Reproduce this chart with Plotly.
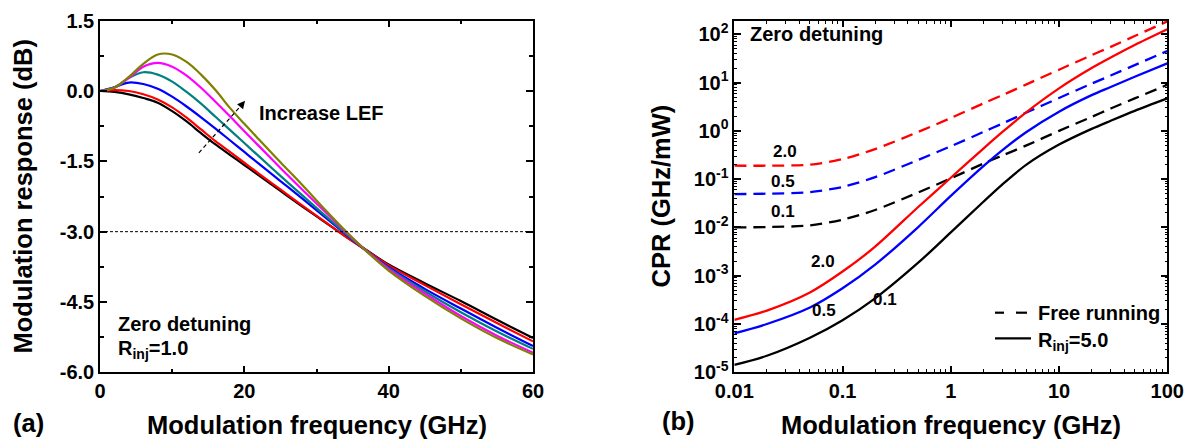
import plotly.graph_objects as go

# ---------------- data: panel (a) modulation response vs frequency ----------------
freq_a = [0, 2, 4, 6, 8, 10, 12, 14, 16, 18, 20, 22, 25, 28, 31, 34, 37, 40, 45, 50, 55, 60]
resp_black = [0, -0.02, -0.07, -0.15, -0.25, -0.43, -0.65, -0.90, -1.14, -1.36, -1.58, -1.80,
              -2.13, -2.46, -2.78, -3.10, -3.40, -3.70, -4.10, -4.48, -4.88, -5.27]
resp_red = [0, 0.02, 0.0, -0.07, -0.18, -0.35, -0.57, -0.82, -1.07, -1.30, -1.53, -1.76,
            -2.10, -2.44, -2.77, -3.10, -3.41, -3.72, -4.14, -4.55, -4.95, -5.34]
resp_blue = [0, 0.08, 0.18, 0.15, 0.05, -0.12, -0.33, -0.56, -0.80, -1.05, -1.30, -1.55,
             -1.92, -2.29, -2.67, -3.05, -3.42, -3.76, -4.22, -4.64, -5.05, -5.44]
resp_teal = [0, 0.08, 0.28, 0.40, 0.35, 0.20, -0.02, -0.27, -0.55, -0.83, -1.11, -1.39,
             -1.81, -2.22, -2.63, -3.03, -3.42, -3.78, -4.27, -4.72, -5.13, -5.50]
resp_magenta = [0, 0.07, 0.28, 0.52, 0.60, 0.52, 0.33, 0.07, -0.23, -0.54, -0.86, -1.17,
                -1.64, -2.10, -2.55, -3.00, -3.42, -3.80, -4.32, -4.80, -5.22, -5.58]
resp_olive = [0, 0.07, 0.30, 0.58, 0.78, 0.78, 0.62, 0.35, 0.02, -0.36, -0.70, -1.03,
              -1.52, -2.00, -2.50, -2.98, -3.43, -3.83, -4.37, -4.85, -5.27, -5.62]
ref_level_db = -3.0

a_xticks = [0, 20, 40, 60]
a_yticks = [1.5, 0.0, -1.5, -3.0, -4.5, -6.0]
a_yticktext = ["1.5", "0.0", "-1.5", "-3.0", "-4.5", "-6.0"]

# ---------------- data: panel (b) CPR vs frequency ----------------
freq_b = [0.01, 0.02, 0.05, 0.1, 0.2, 0.5, 1, 2, 3, 5, 10, 20, 30, 50, 100]
free_20 = [0.19, 0.19, 0.20, 0.26, 0.42, 0.95, 1.85, 3.7, 5.5, 9.2, 18.5, 37, 55, 92, 185]
free_05 = [0.049, 0.050, 0.054, 0.069, 0.11, 0.25, 0.48, 0.95, 1.42, 2.4, 4.8, 9.5, 14, 23, 45]
free_01 = [0.0100, 0.0102, 0.011, 0.0145, 0.023, 0.053, 0.104, 0.21, 0.31, 0.50, 1.0, 1.95, 2.9, 4.7, 9.0]
inj_20 = [1.22e-4, 1.9e-4, 4.5e-4, 1.22e-3, 4.0e-3, 0.0265, 0.107, 0.43, 0.95, 2.45, 7.6, 20, 33, 60, 127]
inj_05 = [6.4e-5, 1.0e-4, 2.2e-4, 5.5e-4, 1.7e-3, 0.0102, 0.045, 0.186, 0.40, 0.95, 2.5, 5.5, 8.1, 13.2, 25]
inj_01 = [1.42e-5, 2.2e-5, 5.2e-5, 1.2e-4, 3.4e-4, 1.86e-3, 7.9e-3, 0.034, 0.078, 0.20, 0.52, 1.1, 1.62, 2.6, 4.7]

b_xticks = [0.01, 0.1, 1, 10, 100]
b_xticktext = ["0.01", "0.1", "1", "10", "100"]
b_yexps = [-5, -4, -3, -2, -1, 0, 1, 2]

# ---------------- figure geometry (pixels) ----------------
W, H = 1186, 440
FONT = "Liberation Sans, Arial, Helvetica, sans-serif"


def fx(px):
    return px / W


def fy(py):
    return 1 - py / H


dom_y = [fy(372.3), fy(20.7)]
dom_xa = [fx(100), fx(533)]
dom_xb = [fx(734.3), fx(1167.3)]

fig = go.Figure()

# panel (a) curves
for vals, col in [(resp_black, "#000000"), (resp_red, "#ff0000"), (resp_blue, "#0000ff"),
                  (resp_teal, "#008080"), (resp_magenta, "#ff00ff"), (resp_olive, "#808000")]:
    fig.add_trace(go.Scatter(x=freq_a, y=vals, mode="lines", xaxis="x", yaxis="y",
                             line=dict(color=col, width=2.2, shape="spline", smoothing=1.0),
                             showlegend=False, hoverinfo="skip"))

# panel (b) curves
DASH = "12px,7px"
for vals, col, dash in [(free_20, "#ff0000", DASH), (free_05, "#0000ff", DASH), (free_01, "#000000", DASH),
                        (inj_20, "#ff0000", "solid"), (inj_05, "#0000ff", "solid"), (inj_01, "#000000", "solid")]:
    fig.add_trace(go.Scatter(x=freq_b, y=vals, mode="lines", xaxis="x2", yaxis="y2",
                             line=dict(color=col, width=2.3, dash=dash, shape="spline", smoothing=0.8),
                             showlegend=False, hoverinfo="skip"))

tickfont = dict(family=FONT, size=20, color="black", weight="bold")
common = dict(showline=True, linecolor="black", linewidth=1.5, mirror="allticks",
              ticks="inside", ticklen=7, tickwidth=1.5, tickcolor="black", automargin=False,
              showgrid=False, zeroline=False, tickfont=tickfont)

b_xminor = [k * 10.0 ** n for n in range(-2, 2) for k in range(2, 10)]
b_yminor = [k * 10.0 ** n for n in range(-5, 3) for k in range(2, 10) if k * 10.0 ** n < 190]

fig.update_layout(
    width=W, height=H,
    margin=dict(l=0, r=0, t=0, b=0, pad=0, autoexpand=False),
    paper_bgcolor="white", plot_bgcolor="white",
    font=dict(family=FONT, color="black", weight="bold"),
    xaxis=dict(domain=dom_xa, range=[0, 60], anchor="y", tickmode="array", tickvals=a_xticks,
               minor=dict(tickmode="array", tickvals=[10, 30, 50], ticks="inside", ticklen=4,
                          tickwidth=1.5, tickcolor="black", showgrid=False), **common),
    yaxis=dict(domain=dom_y, range=[-6, 1.5], anchor="x", tickmode="array", tickvals=a_yticks,
               ticktext=a_yticktext,
               minor=dict(tickmode="array", tickvals=[0.75, -0.75, -2.25, -3.75, -5.25], ticks="inside",
                          ticklen=4, tickwidth=1.5, tickcolor="black", showgrid=False), **common),
    xaxis2=dict(domain=dom_xb, type="log", range=[-2, 2], anchor="y2", tickmode="array",
                tickvals=b_xticks, ticktext=b_xticktext,
                minor=dict(tickmode="array", tickvals=b_xminor, ticks="inside", ticklen=4,
                           tickwidth=1.2, tickcolor="black", showgrid=False), **common),
    yaxis2=dict(domain=dom_y, type="log", range=[-5, 2.2816], anchor="x2", tickmode="array",
                tickvals=[10.0 ** e for e in b_yexps],
                ticktext=["10<sup>%d</sup>" % e for e in b_yexps],
                minor=dict(tickmode="array", tickvals=b_yminor, ticks="inside", ticklen=3,
                           tickwidth=1.0, tickcolor="black", showgrid=False), **common),
)

shapes = []
# -3 dB reference level
shapes.append(dict(type="line", xref="x", yref="y", x0=0, x1=60, y0=ref_level_db, y1=ref_level_db,
                   line=dict(color="black", width=1, dash="3px,2px")))
# "Increase LEF" dashed arrow shaft
shapes.append(dict(type="line", xref="x", yref="y", x0=13.7, y0=-1.32, x1=19.6, y1=-0.30,
                   line=dict(color="black", width=1.2, dash="4px,3px")))
# legend samples of panel (b)
shapes.append(dict(type="line", xref="paper", yref="paper", x0=fx(995), x1=fx(1004), y0=fy(312.7),
                   y1=fy(312.7), line=dict(color="black", width=2.2)))
shapes.append(dict(type="line", xref="paper", yref="paper", x0=fx(1016), x1=fx(1027), y0=fy(312.7),
                   y1=fy(312.7), line=dict(color="black", width=2.2)))
shapes.append(dict(type="line", xref="paper", yref="paper", x0=fx(995), x1=fx(1031), y0=fy(338.3),
                   y1=fy(338.3), line=dict(color="black", width=2.2)))
fig.update_layout(shapes=shapes)


def txt(text, x, y, size=20, xref="paper", yref="paper", xanchor="left", yanchor="middle", angle=0):
    return dict(text=text, x=x, y=y, xref=xref, yref=yref, xanchor=xanchor, yanchor=yanchor,
                showarrow=False, textangle=angle,
                font=dict(family=FONT, size=size, color="black", weight="bold"))


ann = [
    # axis titles
    txt("Modulation response (dB)", fx(23), fy(196.5), size=25.5, xanchor="center", angle=-90),
    txt("Modulation frequency (GHz)", fx(316.5), fy(425), size=25.5, xanchor="center"),
    txt("CPR (GHz/mW)", fx(661), fy(196.5), size=25.5, xanchor="center", angle=-90),
    txt("Modulation frequency (GHz)", fx(950.8), fy(425), size=25.5, xanchor="center"),
    txt("(a)", fx(28), fy(423), size=25.5, xanchor="center"),
    txt("(b)", fx(679), fy(421), size=25.5, xanchor="center"),
    # panel (a) texts
    txt("Increase LEF", 21.7, -0.47, xref="x", yref="y"),
    txt("Zero detuning", 2.2, -4.97, xref="x", yref="y"),
    txt("R<sub>inj</sub>=1.0", 2.2, -5.52, xref="x", yref="y"),
    # panel (b) texts
    txt("Zero detuning", -1.874, 2.0, xref="x2", yref="y2"),
    txt("2.0", -1.532, -0.431, size=17, xref="x2", yref="y2", xanchor="center"),
    txt("0.5", -1.548, -1.052, size=17, xref="x2", yref="y2", xanchor="center"),
    txt("0.1", -1.548, -1.673, size=17, xref="x2", yref="y2", xanchor="center"),
    txt("2.0", -1.178, -2.708, size=17, xref="x2", yref="y2", xanchor="center"),
    txt("0.5", -1.17, -3.72, size=17, xref="x2", yref="y2", xanchor="center"),
    txt("0.1", -0.609, -3.499, size=17, xref="x2", yref="y2", xanchor="center"),
    txt("Free running", fx(1036), fy(312.5)),
    txt("R<sub>inj</sub>=5.0", fx(1036), fy(341)),
    # arrowhead of the "Increase LEF" arrow
    dict(x=20.1, y=-0.21, xref="x", yref="y", ax=-5, ay=6, axref="pixel", ayref="pixel",
         text="", showarrow=True, arrowhead=2, arrowsize=1.3, arrowwidth=1.2, arrowcolor="black"),
]
fig.update_layout(annotations=ann)

fig.write_html("out.html")
